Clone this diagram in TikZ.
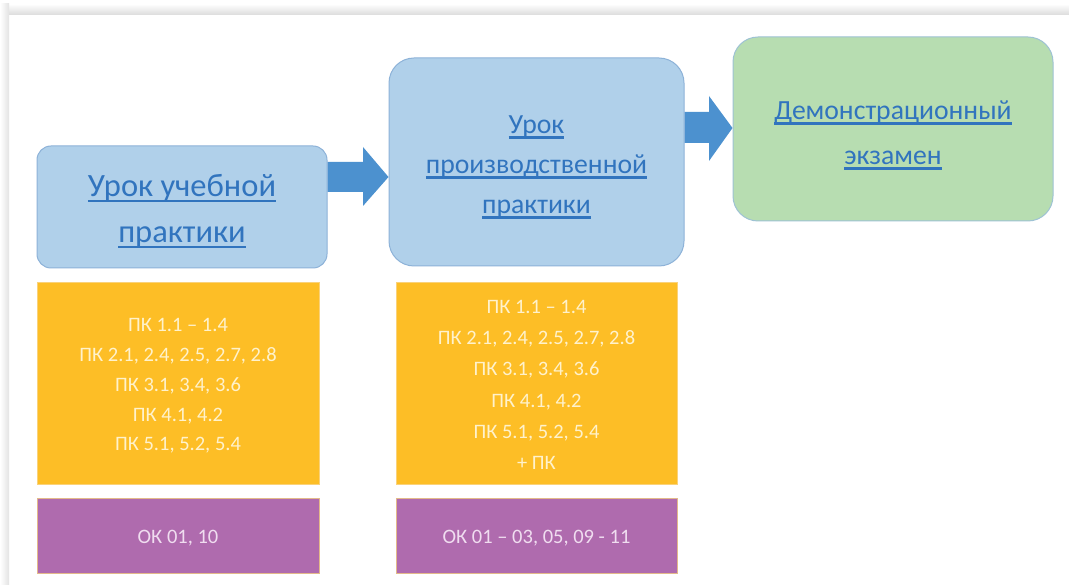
\documentclass[tikz,border=0pt]{standalone}
\usepackage{fontspec}
\setmainfont{Carlito}
\usetikzlibrary{calc}

\definecolor{lessonfill}{HTML}{B0D0EA}
\definecolor{lessonedge}{HTML}{8DB2D8}
\definecolor{examfill}{HTML}{B7DDB1}
\definecolor{examedge}{HTML}{9EC2D4}
\definecolor{linkblue}{HTML}{3174BE}
\definecolor{arrowfill}{HTML}{4C91CF}
\definecolor{pkfill}{HTML}{FDBE26}
\definecolor{pkedge}{HTML}{FAD27A}
\definecolor{pktext}{HTML}{FFF2CC}
\definecolor{okfill}{HTML}{AF6BAE}
\definecolor{okedge}{HTML}{E3B98A}
\definecolor{oktext}{HTML}{F0DDF0}

% underlined link-style text
\newsavebox\linkbox
\newcommand\linktext[1]{\sbox\linkbox{#1}\usebox\linkbox\llap{\rule[-5.5pt]{\wd\linkbox}{2.2pt}}}

\tikzset{
  lesson/.style={draw=lessonedge, line width=1pt, fill=lessonfill, rounded corners=#1, inner sep=0pt},
  exambox/.style={draw=examedge, line width=1pt, fill=examfill, rounded corners=25pt, inner sep=0pt},
  linklabel/.style={align=center, text=linkblue, inner sep=0pt},
  pkbox/.style={draw=pkedge, line width=0.8pt, fill=pkfill, inner sep=0pt},
  pklabel/.style={align=center, text=pktext, inner sep=0pt},
  okbox/.style={draw=okedge, line width=0.8pt, fill=okfill, inner sep=0pt},
  oklabel/.style={align=center, text=oktext, inner sep=0pt, font=\fontsize{20.5}{24}\selectfont},
  blockarrow/.style={fill=arrowfill}
}

\begin{document}
\begin{tikzpicture}[x=1pt, y=-1pt]
  \useasboundingbox (0,0) rectangle (1069,585);
  \fill[white] (0,0) rectangle (1069,585);
  % soft page shadow along the top and left edges
  \shade[top color=white, bottom color=gray!28] (9,4) rectangle (1069,15);
  \shade[left color=white, right color=gray!22] (0,15) rectangle (9,585);
  \shade[left color=white, right color=gray!22] (0,4) rectangle (9,15);

  % lesson and exam stages
  \node[lesson=14pt, minimum width=290pt, minimum height=122pt] (b1) at (182,207) {};
  \node[lesson=25pt, minimum width=295pt, minimum height=208pt] (b2) at (536.5,162) {};
  \node[exambox, minimum width=320pt, minimum height=184pt] (b3) at (893,129) {};

  \node[linklabel, font=\fontsize{32.5}{46}\selectfont] (b1t) at ([yshift=-4pt]b1.center)
        {\linktext{Урок учебной}\\\linktext{практики}};
  \node[linklabel, font=\fontsize{27.7}{40}\selectfont] (b2t) at ([yshift=-5pt]b2.center)
        {\linktext{Урок}\\\linktext{производственной}\\\linktext{практики}};
  \node[linklabel, font=\fontsize{27.7}{45}\selectfont] (b3t) at ([yshift=-6pt]b3.center)
        {\linktext{Демонстрационный}\\\linktext{экзамен}};

  % block arrows between the stages
  \fill[blockarrow] let \p1=(b1.east), \p2=(b2.west) in
    (\x1,162) -- (363,162) -- (363,147) -- (\x2,177) -- (363,206) -- (363,192) -- (\x1,192) -- cycle;
  \fill[blockarrow] let \p1=(b2.east), \p2=(b3.west) in
    (\x1,112) -- (709,112) -- (709,96) -- (\x2,128) -- (709,161) -- (709,143) -- (\x1,143) -- cycle;

  % professional competences
  \node[pkbox, minimum width=282pt, minimum height=202pt] (pk1) at (178,383) {};
  \node[pkbox, minimum width=281pt, minimum height=202pt] (pk2) at (536.5,383) {};
  \node[pklabel, font=\fontsize{20.5}{29.8}\selectfont] (pk1t) at ([yshift=-3pt]pk1.center)
    {ПК 1.1 – 1.4\\ПК 2.1, 2.4, 2.5, 2.7, 2.8\\ПК 3.1, 3.4, 3.6\\ПК 4.1, 4.2\\ПК 5.1, 5.2, 5.4};
  \node[pklabel, font=\fontsize{20.5}{31.2}\selectfont] (pk2t) at ([yshift=-2pt]pk2.center)
    {ПК 1.1 – 1.4\\ПК 2.1, 2.4, 2.5, 2.7, 2.8\\ПК 3.1, 3.4, 3.6\\ПК 4.1, 4.2\\ПК 5.1, 5.2, 5.4\\+ ПК};

  % general competences
  \node[okbox, minimum width=282pt, minimum height=75pt] (ok1) at (178,535.5) {};
  \node[okbox, minimum width=281pt, minimum height=75pt] (ok2) at (536.5,535.5) {};
  \node[oklabel] (ok1t) at ([yshift=-3pt]ok1.center) {ОК 01, 10};
  \node[oklabel] (ok2t) at ([yshift=-3pt]ok2.center) {ОК 01 – 03, 05, 09 - 11};
\end{tikzpicture}
\end{document}
